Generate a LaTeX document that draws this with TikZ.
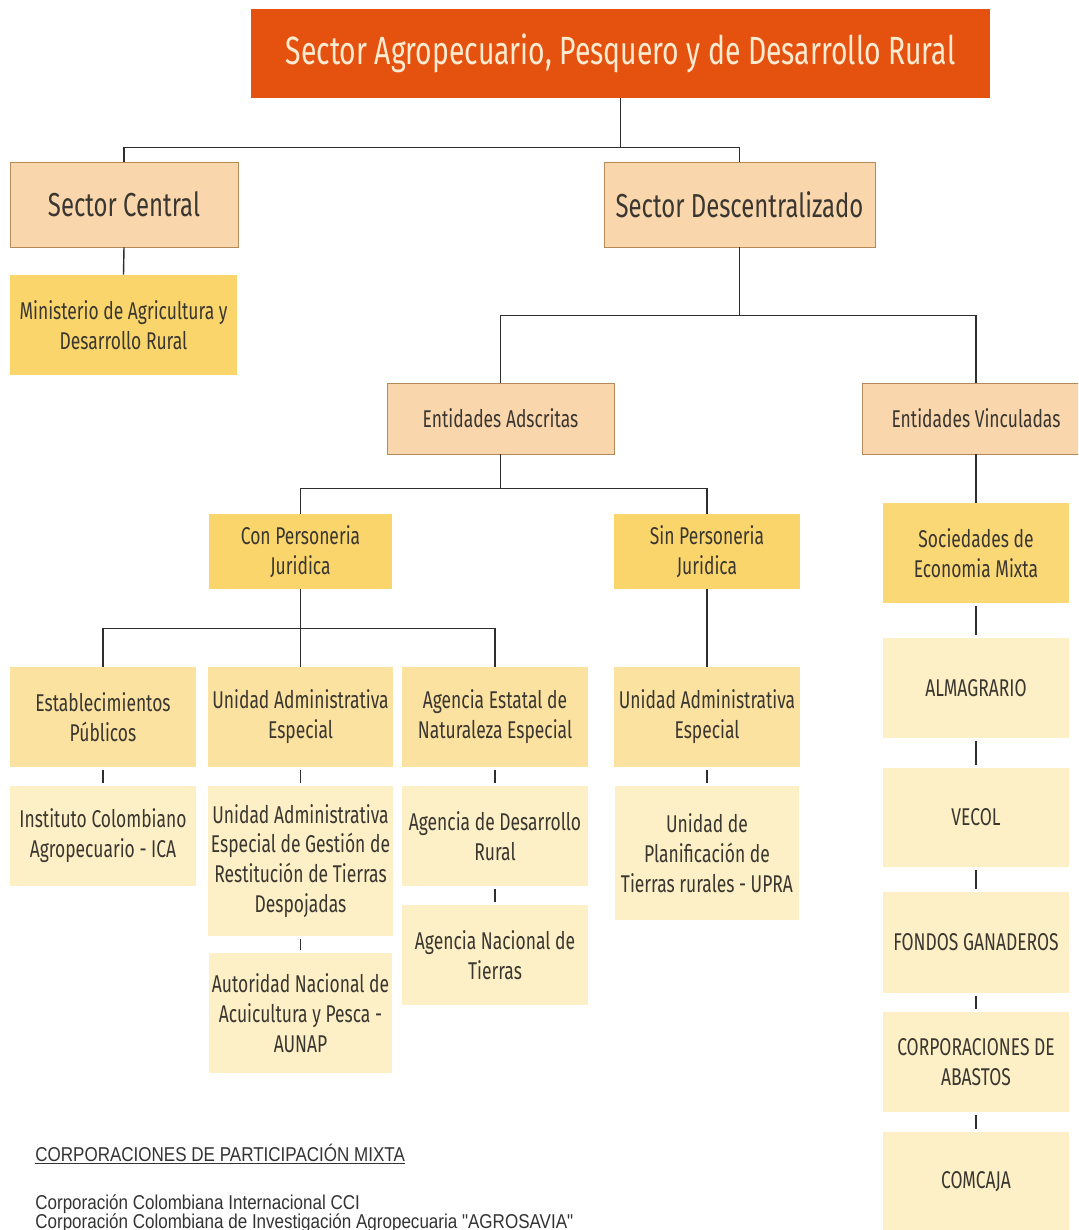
\documentclass[tikz,border=0pt]{standalone}
\usepackage{fontspec}
\setmainfont{Fira Sans}[FakeStretch=0.72]
\newfontfamily\notefont{Liberation Sans}[FakeStretch=0.85]
\usetikzlibrary{positioning}

\definecolor{titleorange}{HTML}{E5520F}
\definecolor{titletext}{HTML}{FCEBD0}
\definecolor{peach}{HTML}{FAD6AD}
\definecolor{peachline}{HTML}{B48A5A}
\definecolor{gold}{HTML}{FAD56C}
\definecolor{palegold}{HTML}{FBE2A0}
\definecolor{cream}{HTML}{FDF0C6}
\definecolor{inktext}{HTML}{3A3630}
\definecolor{linkgray}{HTML}{2E2E2E}

\begin{document}
\begin{tikzpicture}[
    x=0.02cm,
    y=-0.02cm,
    every node/.style={rectangle, text=inktext, align=center, inner sep=0pt},
    titlebox/.style={fill=titleorange, text=titletext, font=\fontsize{22.4}{26}\selectfont},
    sectorbox/.style={draw=peachline, fill=peach, font=\fontsize{18.9}{22}\selectfont},
    entbox/.style={draw=peachline, fill=peach, font=\fontsize{13.8}{17}\selectfont},
    tipobox/.style={fill=gold, font=\fontsize{13.8}{17}\selectfont},
    clasebox/.style={fill=palegold, font=\fontsize{13.8}{17}\selectfont},
    hojabox/.style={fill=cream, font=\fontsize{13.8}{17}\selectfont},
    link/.style={draw=linkgray, line width=0.8pt},
    tick/.style={link, shorten <=1.5pt, shorten >=1.5pt},
    note/.style={font=\notefont\fontsize{11.4}{12}\selectfont, text=black!80, align=left},
]

    \fill[white] (0,0) rectangle (1078,1230);
    \clip (0,0) rectangle (1078,1230);
    \useasboundingbox (0,0) rectangle (1078,1230);

    % cabecera
    \node[titlebox, minimum width=14.78cm, minimum height=1.78cm] (top) at (620.5,53.5) {Sector Agropecuario, Pesquero y de Desarrollo Rural};

    \node[sectorbox, minimum width=4.56cm, minimum height=1.7cm] (SC) at (124,204.5) {Sector Central};
    \node[sectorbox, minimum width=5.42cm, minimum height=1.7cm] (SD) at (739.5,204.5) {Sector Descentralizado};

    \node[tipobox, minimum width=4.54cm, minimum height=2cm] (MIN) at (123.5,325) {Ministerio de Agricultura y\\Desarrollo Rural};

    \node[entbox, minimum width=4.54cm, minimum height=1.42cm] (EA) at (500.5,418.5) {Entidades Adscritas};
    \node[entbox, minimum width=4.54cm, minimum height=1.42cm] (EV) at (976,418.5) {Entidades Vinculadas};

    \node[tipobox, minimum width=3.68cm, minimum height=1.5cm] (CPJ) at (300.5,551.5) {Con Personeria\\Juridica};
    \node[tipobox, minimum width=3.72cm, minimum height=1.5cm] (SPJ) at (707,551.5) {Sin Personeria\\Juridica};

    \node[clasebox, minimum width=3.72cm, minimum height=2cm] (EP)   at (103,717)   {Establecimientos\\Públicos};
    \node[clasebox, minimum width=3.7cm,  minimum height=2cm] (UAE1) at (300.5,717) {Unidad Administrativa\\Especial};
    \node[clasebox, minimum width=3.72cm, minimum height=2cm] (AEE)  at (495,717)   {Agencia Estatal de\\Naturaleza Especial};
    \node[clasebox, minimum width=3.72cm, minimum height=2cm] (UAE2) at (707,717)   {Unidad Administrativa\\Especial};

    \node[hojabox, minimum width=3.72cm, minimum height=2cm]   (ICA)   at (103,836)   {Instituto Colombiano\\Agropecuario - ICA};
    \node[hojabox, minimum width=3.7cm,  minimum height=3cm]   (UAEG)  at (300.5,861) {Unidad Administrativa\\Especial de Gestión de\\Restitución de Tierras\\Despojadas};
    \node[hojabox, minimum width=3.68cm, minimum height=2.4cm] (AUNAP) at (300.5,1013) {Autoridad Nacional de\\Acuicultura y Pesca -\\AUNAP};
    \node[hojabox, minimum width=3.72cm, minimum height=2cm]   (ADR)   at (495,836)   {Agencia de Desarrollo\\Rural};
    \node[hojabox, minimum width=3.72cm, minimum height=2cm]   (ANT)   at (495,955)   {Agencia Nacional de\\Tierras};
    \node[hojabox, minimum width=3.7cm,  minimum height=2.68cm] (UPRA) at (707,853)   {Unidad de\\Planificación de\\Tierras rurales - UPRA};

    % columna de vinculadas
    \node[tipobox, fill=gold!80!palegold, minimum width=3.72cm, minimum height=2cm] (SEM) at (976,553) {Sociedades de\\Economia Mixta};
    \node[hojabox, minimum width=3.72cm, minimum height=2cm]    (ALM) at (976,688)    {ALMAGRARIO};
    \node[hojabox, minimum width=3.72cm, minimum height=1.98cm] (VEC) at (976,817.5)  {VECOL};
    \node[hojabox, minimum width=3.72cm, minimum height=2.02cm] (FON) at (976,942.5)  {FONDOS GANADEROS};
    \node[hojabox, minimum width=3.72cm, minimum height=2cm]    (CAB) at (976,1062)   {CORPORACIONES DE\\ABASTOS};
    \node[hojabox, minimum width=3.72cm, minimum height=2cm]    (COM) at (976,1182)   {COMCAJA};

    % conectores
    \draw[link] (top.south) -- ++(0,49) coordinate (j1);
    \draw[link] (SC.north) |- (j1) -| (SD.north);
    \draw[link] (SC.south) -- (MIN.north);
    \draw[link] (SD.south) -- ++(0,68) coordinate (j2);
    \draw[link] (EA.north) |- (j2) -| (EV.north);
    \draw[link] (EA.south) -- ++(0,34) coordinate (j3);
    \draw[link] (CPJ.north) |- (j3) -| (SPJ.north);
    \draw[link] (CPJ.south) -- ++(0,39) coordinate (j4);
    \draw[link] (EP.north) |- (j4) -| (AEE.north);
    \draw[link] (j4) -- (UAE1.north);
    \draw[link] (SPJ.south) -- (UAE2.north);
    \draw[link] (EV.south) -- (SEM.north);

    \draw[tick] (EP.south)   -- (ICA.north);
    \draw[tick] (UAE1.south) -- (UAEG.north);
    \draw[tick] (UAEG.south) -- (AUNAP.north);
    \draw[tick] (AEE.south)  -- (ADR.north);
    \draw[tick] (ADR.south)  -- (ANT.north);
    \draw[tick] (UAE2.south) -- (UPRA.north);
    \draw[tick] (SEM.south)  -- (ALM.north);
    \draw[tick] (ALM.south)  -- (VEC.north);
    \draw[tick] (VEC.south)  -- (FON.north);
    \draw[tick] (FON.south)  -- (CAB.north);
    \draw[tick] (CAB.south)  -- (COM.north);

    % nota al pie
    \node[note, anchor=base west] (CPM) at (35,1161) {\underline{CORPORACIONES DE PARTICIPACIÓN MIXTA}};
    \node[note, anchor=base west] (CCI) at (35,1209) {Corporación Colombiana Internacional CCI};
    \node[note, anchor=base west] (AGR) at (35,1228) {Corporación Colombiana de Investigación Agropecuaria "AGROSAVIA"};

\end{tikzpicture}
\end{document}
